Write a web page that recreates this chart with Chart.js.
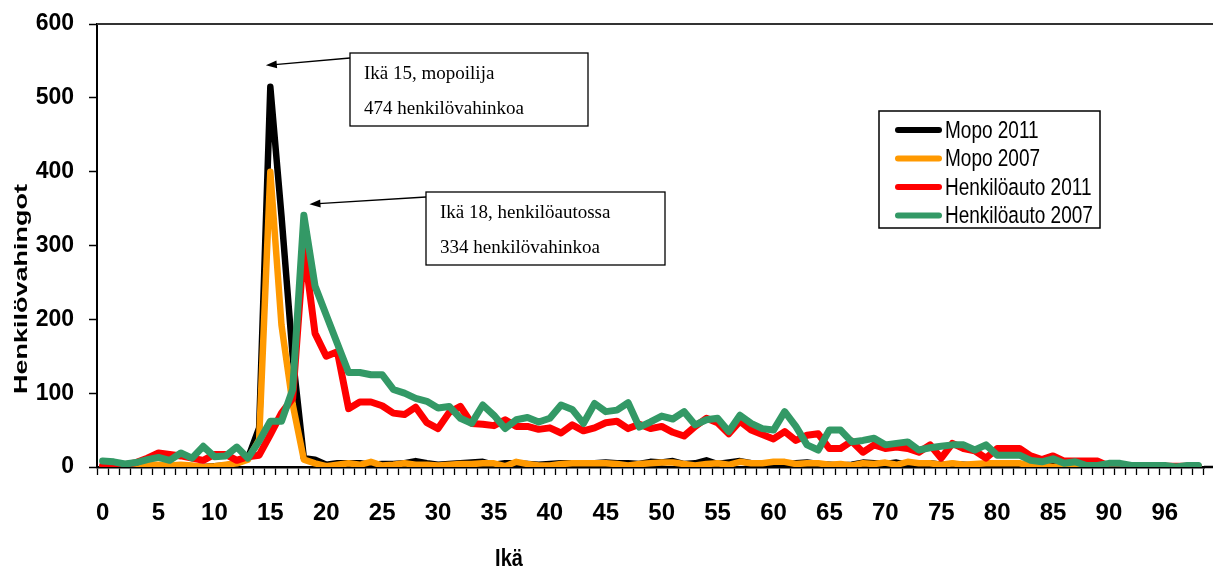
<!DOCTYPE html>
<html lang="fi">
<head>
<meta charset="utf-8">
<title>Henkilövahingot iän mukaan</title>
<script src="https://cdn.jsdelivr.net/npm/chart.js@4.4.1/dist/chart.umd.min.js"></script>
<style>
  html, body { margin: 0; padding: 0; background: #fff; }
  #wrap { width: 1213px; height: 572px; }
</style>
</head>
<body>
<div id="wrap"><canvas id="chart" width="1213" height="572"></canvas></div>
<script>
// ages on the x axis (no row for 93)
const ages = [
  0, 1, 2, 3, 4, 5, 6, 7, 8, 9, 10, 11, 12, 13, 14, 15, 16, 17, 18, 19,
  20, 21, 22, 23, 24, 25, 26, 27, 28, 29, 30, 31, 32, 33, 34, 35, 36, 37, 38, 39,
  40, 41, 42, 43, 44, 45, 46, 47, 48, 49, 50, 51, 52, 53, 54, 55, 56, 57, 58, 59,
  60, 61, 62, 63, 64, 65, 66, 67, 68, 69, 70, 71, 72, 73, 74, 75, 76, 77, 78, 79,
  80, 81, 82, 83, 84, 85, 86, 87, 88, 89, 90, 91, 92, 94, 95, 96, 97, 98, 99
];

// injuries per age
const mopo2011 = [
  0, 0, 0, 0, 1, 1, 0, 1, 1, 0, 1, 2, 5, 12, 53, 515, 340, 150, 12, 10,
  3, 5, 5, 5, 3, 4, 4, 5, 8, 5, 3, 4, 5, 6, 7, 3, 5, 5, 4, 3,
  4, 5, 5, 5, 5, 6, 5, 5, 4, 7, 6, 8, 4, 5, 9, 4, 6, 8, 5, 3,
  2, 3, 5, 6, 4, 3, 2, 3, 6, 5, 4, 6, 3, 4, 5, 3, 4, 3, 2, 3,
  4, 3, 2, 2, 1, 1, 1, 1, 0, 1, 0, 0, 0, 0, 0, 0, 0, 0, 0
];
const mopo2007 = [
  0, 0, 1, 1, 3, 3, 2, 3, 2, 0, 1, 3, 5, 10, 37, 400, 192, 85, 10, 5,
  1, 3, 5, 3, 7, 2, 3, 5, 3, 3, 2, 3, 4, 4, 5, 5, 1, 7, 4, 2,
  2, 4, 5, 5, 5, 5, 4, 2, 4, 5, 6, 6, 4, 2, 4, 5, 3, 7, 5, 5,
  7, 7, 4, 5, 5, 3, 4, 2, 5, 4, 6, 3, 7, 5, 5, 3, 5, 3, 4, 5,
  5, 5, 5, 2, 2, 0, 2, 2, 1, 0, 0, 0, 0, 0, 0, 0, 0, 0, 0
];
const auto2011 = [
  2, 2, 3, 6, 12, 19, 17, 15, 12, 9, 17, 17, 9, 14, 16, 44, 73, 93, 299, 181,
  150, 156, 79, 88, 88, 83, 73, 71, 81, 60, 52, 74, 82, 59, 58, 56, 64, 55, 55, 51,
  53, 46, 57, 49, 53, 60, 62, 52, 58, 52, 55, 47, 42, 55, 66, 60, 45, 62, 50, 44,
  38, 48, 36, 43, 45, 25, 25, 35, 20, 30, 25, 27, 25, 20, 30, 12, 32, 25, 22, 12,
  25, 25, 25, 15, 10, 15, 8, 8, 8, 8, 1, 2, 2, 1, 1, 1, 1, 1, 1
];
const auto2007 = [
  8, 7, 4, 6, 10, 13, 9, 19, 12, 28, 14, 15, 27, 12, 35, 62, 62, 105, 341, 245,
  206, 167, 128, 128, 125, 125, 105, 100, 93, 89, 80, 82, 66, 59, 84, 70, 52, 64, 67, 61,
  66, 84, 78, 59, 86, 75, 77, 87, 54, 61, 69, 65, 75, 57, 64, 66, 48, 70, 59, 52,
  50, 75, 55, 30, 23, 50, 50, 34, 36, 39, 30, 32, 34, 23, 26, 28, 30, 30, 23, 30,
  16, 16, 16, 9, 7, 11, 5, 7, 2, 2, 5, 5, 2, 2, 2, 2, 0, 2, 2
];

const seriesNames = ['Mopo 2011', 'Mopo 2007', 'Henkilöauto 2011', 'Henkilöauto 2007'];
const seriesColors = ['#000000', '#ff9900', '#ff0000', '#339966'];
const seriesValues = [mopo2011, mopo2007, auto2011, auto2007];
const drawOrder = [4, 3, 2, 1]; // green on top of red, orange on top of black

// text boxes with arrows (tip given in age index / value)
const notes = [
  { tipIndex: 14.6, tipValue: 544, box: [350, 53, 238, 73], lines: ['Ikä 15, mopoilija', '474 henkilövahinkoa'] },
  { tipIndex: 18.5, tipValue: 356, box: [426, 192, 239, 73], lines: ['Ikä 18, henkilöautossa', '334 henkilövahinkoa'] }
];

const SANS = "'Liberation Sans', Arial, Helvetica, sans-serif";
const SERIF = "'Liberation Serif', 'Times New Roman', serif";

// text squeezed/stretched like in the Excel picture
function stretchedText(ctx, text, x, y, sx, sy) {
  ctx.save();
  ctx.translate(x, y);
  ctx.scale(sx, sy);
  ctx.fillText(text, 0, 0);
  ctx.restore();
}

// legend, notes and axis titles drawn on top of the chart
const extras = {
  id: 'extras',
  afterDraw(chart) {
    const ctx = chart.ctx;
    const xs = chart.scales.x;
    const ys = chart.scales.y;
    const area = chart.chartArea;

    ctx.save();
    // axis line and top line run to the right edge like in the original
    ctx.strokeStyle = '#000';
    ctx.lineWidth = 2.5;
    ctx.beginPath();
    ctx.moveTo(area.right, area.bottom);
    ctx.lineTo(chart.width, area.bottom);
    ctx.stroke();
    ctx.strokeStyle = '#333';
    ctx.lineWidth = 2;
    ctx.beginPath();
    ctx.moveTo(area.left, area.top);
    ctx.lineTo(chart.width, area.top);
    ctx.stroke();

    // notes
    notes.forEach(n => {
      const [bx, by, bw, bh] = n.box;
      ctx.fillStyle = '#fff';
      ctx.fillRect(bx, by, bw, bh);
      ctx.strokeStyle = '#000';
      ctx.lineWidth = 1.3;
      ctx.strokeRect(bx, by, bw, bh);
      ctx.fillStyle = '#000';
      ctx.font = '19px ' + SERIF;
      ctx.textAlign = 'left';
      ctx.textBaseline = 'alphabetic';
      ctx.fillText(n.lines[0], bx + 14, by + 26);
      ctx.fillText(n.lines[1], bx + 14, by + 61);

      const tx = xs.getPixelForValue(n.tipIndex);
      const ty = ys.getPixelForValue(n.tipValue);
      const ang = Math.atan2(ty - (by + 5), tx - bx);
      ctx.lineWidth = 1.3;
      ctx.beginPath();
      ctx.moveTo(bx, by + 5);
      ctx.lineTo(tx - 9 * Math.cos(ang), ty - 9 * Math.sin(ang));
      ctx.stroke();
      ctx.beginPath();
      ctx.moveTo(tx, ty);
      ctx.lineTo(tx - 11 * Math.cos(ang) - 4 * Math.sin(ang), ty - 11 * Math.sin(ang) + 4 * Math.cos(ang));
      ctx.lineTo(tx - 11 * Math.cos(ang) + 4 * Math.sin(ang), ty - 11 * Math.sin(ang) - 4 * Math.cos(ang));
      ctx.closePath();
      ctx.fill();
    });

    // legend box
    const lx = 879, ly = 111, lw = 221, lh = 117;
    ctx.fillStyle = '#fff';
    ctx.fillRect(lx, ly, lw, lh);
    ctx.strokeStyle = '#000';
    ctx.lineWidth = 1.5;
    ctx.strokeRect(lx, ly, lw, lh);
    chart.data.datasets.forEach((ds, i) => {
      const rowY = ly + 19 + i * 28.5;
      ctx.strokeStyle = ds.borderColor;
      ctx.lineWidth = 6;
      ctx.lineCap = 'round';
      ctx.beginPath();
      ctx.moveTo(lx + 19, rowY);
      ctx.lineTo(lx + 60, rowY);
      ctx.stroke();
      ctx.fillStyle = '#000';
      ctx.font = '19px ' + SANS;
      ctx.textAlign = 'left';
      ctx.textBaseline = 'middle';
      stretchedText(ctx, ds.label, lx + 66, rowY + 1, 1, 1.25);
    });

    // axis titles
    ctx.fillStyle = '#000';
    ctx.font = 'bold 20px ' + SANS;
    ctx.textAlign = 'center';
    ctx.textBaseline = 'middle';
    stretchedText(ctx, 'Ikä', 509, 559, 1, 1.2);
    ctx.save();
    ctx.translate(22, 289);
    ctx.rotate(-Math.PI / 2);
    ctx.font = 'bold 18px ' + SANS;
    stretchedText(ctx, 'Henkilövahingot', 0, 0, 1.5, 1);
    ctx.restore();
    ctx.restore();
  }
};

const ctx = document.getElementById('chart').getContext('2d');
new Chart(ctx, {
  type: 'line',
  data: {
    labels: ages,
    datasets: seriesNames.map((name, i) => ({
      label: name,
      data: seriesValues[i],
      borderColor: seriesColors[i],
      backgroundColor: seriesColors[i],
      borderWidth: i < 2 ? 6.5 : 7,
      order: drawOrder[i],
      fill: false
    }))
  },
  options: {
    responsive: false,
    animation: false,
    layout: { padding: { left: 0, top: 24, right: 9, bottom: 0 } },
    elements: {
      point: { radius: 0 },
      line: { tension: 0, borderCapStyle: 'round', borderJoinStyle: 'round' }
    },
    plugins: {
      legend: { display: false },
      tooltip: { enabled: false }
    },
    scales: {
      x: {
        type: 'category',
        offset: true,
        grid: { offset: true, drawOnChartArea: false, tickLength: 8, tickColor: '#000', tickWidth: 1.3 },
        border: { color: '#000', width: 2.5 },
        ticks: {
          autoSkip: false,
          maxRotation: 0,
          padding: 24,
          color: '#000',
          font: { family: SANS, size: 24, weight: 'bold' },
          callback: (v, i) => (i % 5 === 0 ? ages[i] : '')
        },
        afterFit: s => { s.height = 105; s.paddingLeft = 0; s.paddingRight = 0; }
      },
      y: {
        min: 0,
        max: 600,
        ticks: {
          stepSize: 100,
          padding: 15,
          color: '#000',
          font: { family: SANS, size: 23, weight: 'bold' }
        },
        grid: {
          color: 'rgba(0,0,0,0)',
          tickLength: 8,
          tickColor: '#000',
          tickWidth: 1.5
        },
        border: { color: '#000', width: 2 },
        afterFit: s => { s.width = 97; s.paddingTop = 0; s.paddingBottom = 0; }
      }
    }
  },
  plugins: [extras]
});
</script>
</body>
</html>
